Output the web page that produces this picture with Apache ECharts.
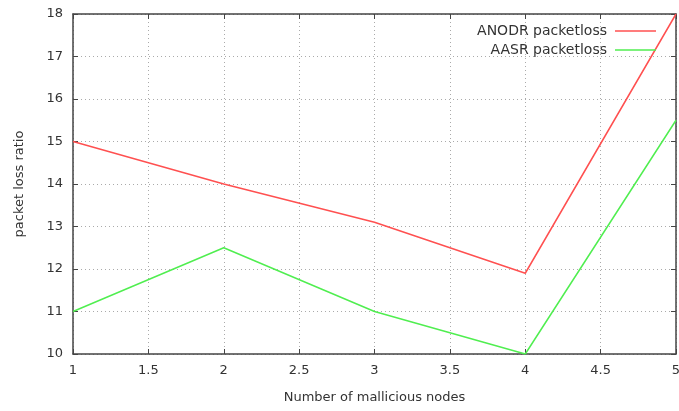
<!DOCTYPE html>
<html>
<head>
<meta charset="utf-8">
<script src="https://cdn.jsdelivr.net/npm/echarts@6/dist/echarts.min.js"></script>
<style>
  * { margin: 0; padding: 0; }
  body { background: #fff; }
  #main { width: 679px; height: 411px; }
</style>
</head>
<body>
<div id="main"></div>
<script>
  // x = number of malicious nodes
  var nodes = [1, 2, 3, 4, 5];
  var anodrLoss = [15, 14, 13.1, 11.9, 18];
  var aasrLoss = [11, 12.5, 11, 10, 15.5];

  function pairs(xs, ys) {
    return xs.map(function (x, i) { return [x, ys[i]]; });
  }

  var font = 'DejaVu Sans';
  var axisCol = '#444';

  function legendFor(name, top) {
    return {
      data: [name],
      right: 18, top: top,
      align: 'right',
      icon: 'rect',
      itemWidth: 41, itemHeight: 1.5,
      textStyle: { fontFamily: font, fontSize: 14, color: '#333', padding: [0, 3, 0, 0] }
    };
  }

  var chart = echarts.init(document.getElementById('main'));
  chart.setOption({
    backgroundColor: '#fff',
    animation: false,
    textStyle: { fontFamily: font },
    grid: { left: 73, right: 3, top: 14, bottom: 57, outerBoundsMode: 'none' },
    legend: [legendFor('ANODR packetloss', 19), legendFor('AASR packetloss', 38)],
    xAxis: [{
      type: 'value',
      min: 1, max: 5, interval: 0.5,
      name: 'Number of mallicious nodes',
      nameLocation: 'middle',
      nameGap: 37,
      nameTextStyle: { fontSize: 13, color: '#333' },
      axisLine: { lineStyle: { color: axisCol, width: 1.5 } },
      axisTick: { inside: true, length: 5, lineStyle: { color: axisCol } },
      axisLabel: { fontSize: 13, color: '#333', margin: 10 },
      splitLine: { show: true, lineStyle: { color: '#aaa', type: [1, 3] } }
    }, {
      type: 'value', position: 'top',
      min: 1, max: 5, interval: 0.5,
      axisLine: { show: true, lineStyle: { color: axisCol, width: 1.5 } },
      axisTick: { show: true, inside: true, length: 5, lineStyle: { color: axisCol } },
      axisLabel: { show: false },
      splitLine: { show: false }
    }],
    yAxis: [{
      type: 'value',
      min: 10, max: 18, interval: 1,
      name: 'packet loss ratio',
      nameLocation: 'middle',
      nameGap: 47,
      nameTextStyle: { fontSize: 13, color: '#333' },
      axisLine: { show: true, lineStyle: { color: axisCol, width: 1.5 } },
      axisTick: { show: true, inside: true, length: 5, lineStyle: { color: axisCol } },
      axisLabel: { fontSize: 13, color: '#333', margin: 10 },
      splitLine: { show: true, lineStyle: { color: '#aaa', type: [1, 3] } }
    }, {
      type: 'value', position: 'right',
      min: 10, max: 18, interval: 1,
      axisLine: { show: true, lineStyle: { color: axisCol, width: 1.5 } },
      axisTick: { show: true, inside: true, length: 5, lineStyle: { color: axisCol } },
      axisLabel: { show: false },
      splitLine: { show: false }
    }],
    series: [{
      name: 'ANODR packetloss',
      type: 'line',
      data: pairs(nodes, anodrLoss),
      symbol: 'none',
      color: '#ff5050',
      lineStyle: { width: 1.5 }
    }, {
      name: 'AASR packetloss',
      type: 'line',
      data: pairs(nodes, aasrLoss),
      symbol: 'none',
      color: '#50ee50',
      lineStyle: { width: 1.5 }
    }]
  });
</script>
</body>
</html>
